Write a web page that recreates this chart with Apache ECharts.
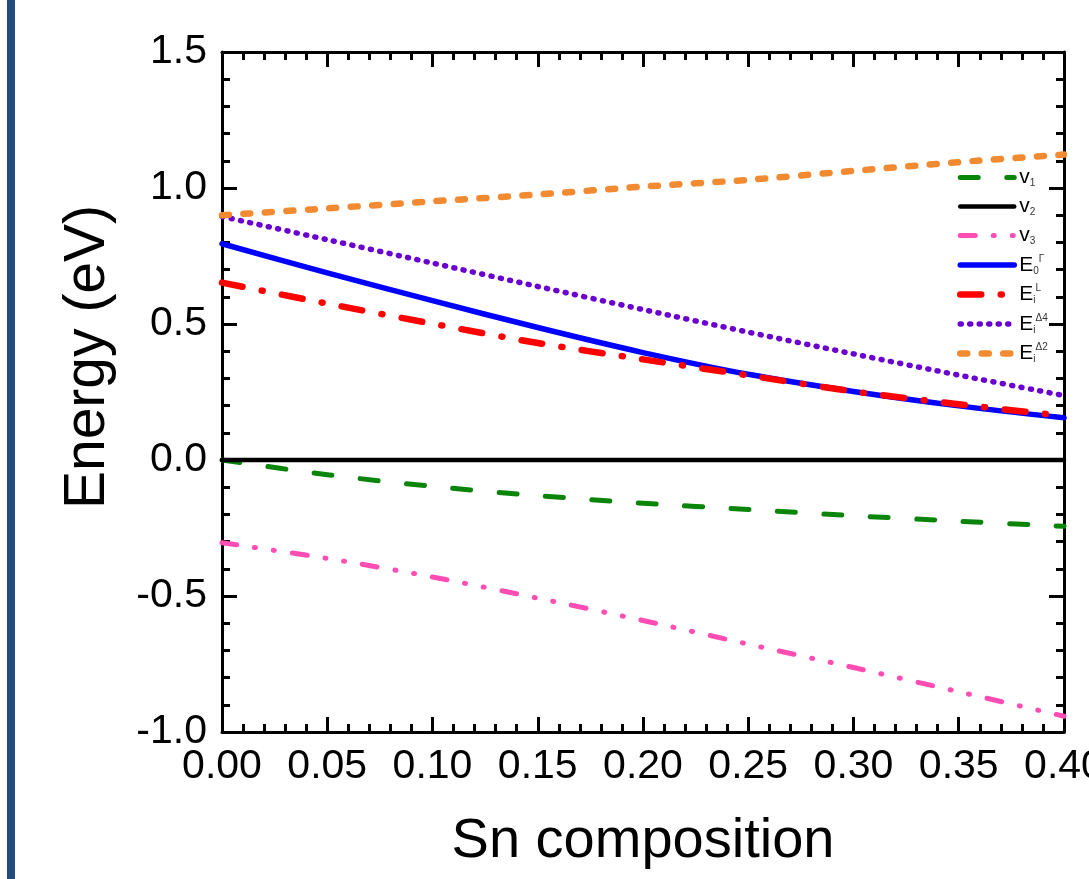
<!DOCTYPE html>
<html>
<head>
<meta charset="utf-8">
<script src="https://cdn.jsdelivr.net/npm/echarts@6/dist/echarts.min.js"></script>
<style>
html,body{margin:0;padding:0;background:#fff;}
#chart{width:1089px;height:879px;}
</style>
</head>
<body>
<div id="chart"></div>
<script>
// Sn composition (x)
const composition = [0.00, 0.05, 0.10, 0.15, 0.20, 0.25, 0.30, 0.35, 0.40];
// Energies (eV)
const v1 = [0.000, -0.054, -0.097, -0.131, -0.159, -0.182, -0.205, -0.225, -0.244];
const v2 = [0.000, 0.000, 0.000, 0.000, 0.000, 0.000, 0.000, 0.000, 0.000];
const v3 = [-0.304, -0.362, -0.430, -0.508, -0.590, -0.677, -0.763, -0.852, -0.942];
const E0Gamma = [0.795, 0.688, 0.586, 0.487, 0.395, 0.315, 0.252, 0.199, 0.155];
const EiL = [0.652, 0.575, 0.501, 0.430, 0.370, 0.311, 0.252, 0.205, 0.162];
const EiDelta4 = [0.895, 0.810, 0.724, 0.638, 0.553, 0.470, 0.390, 0.312, 0.237];
const EiDelta2 = [0.900, 0.925, 0.951, 0.976, 1.005, 1.030, 1.063, 1.095, 1.123];
// tick labels
const xTicks = ['0.00','0.05','0.10','0.15','0.20','0.25','0.30','0.35','0.40'];
const yTicks = ['-1.0','-0.5','0.0','0.5','1.0','1.5'];

const seriesDefs = [
  {name:'v1', data:v1, color:'#0a850a', width:5, type:[18,28.5]},
  {name:'v2', data:v2, color:'#000000', width:4.5, type:'solid'},
  {name:'v3', data:v3, color:'#ff4db4', width:5, type:[15,18,1,18,1,18]},
  {name:'E0G', data:E0Gamma, color:'#0000ff', width:5.5, type:'solid'},
  {name:'EiL', data:EiL, color:'#ff0000', width:6.5, type:[21,19.5,1,19.5]},
  {name:'EiD4', data:EiDelta4, color:'#6a00d0', width:5.5, type:[1,8.5]},
  {name:'EiD2', data:EiDelta2, color:'#f28a32', width:6.5, type:[7,14.5]}
];
const legendLabels = {
  v1:'{b|v}{sub|1}', v2:'{b|v}{sub|2}', v3:'{b|v}{sub|3}',
  E0G:'{b|E}{sub|0}{sup|Γ}', EiL:'{b|E}{sub|i}{sup|L}',
  EiD4:'{b|E}{sub|i}{sup|Δ4}', EiD2:'{b|E}{sub|i}{sup|Δ2}'
};

const FONT = 'Liberation Sans, Arial, sans-serif';
const chart = echarts.init(document.getElementById('chart'), null, {renderer:'canvas'});

const axisCommon = {
  axisLine:{show:true, onZero:false, lineStyle:{color:'#000', width:3}},
  axisTick:{show:true, inside:true, length:15, lineStyle:{color:'#000', width:3}},
  minorTick:{show:true, splitNumber:5, length:8, lineStyle:{color:'#000', width:3}},
  splitLine:{show:false}
};

chart.setOption({
  backgroundColor:'#ffffff',
  animation:false,
  graphic:[{type:'rect', shape:{x:7, y:0, width:8, height:879}, style:{fill:'#244b7e'}, z:100}],
  grid:{left:222, right:25, top:52, bottom:147, containLabel:false, outerBoundsMode:'none'},
  legend:{
    orient:'vertical', left:957, top:167, padding:0, itemWidth:54, itemHeight:14, itemGap:7.5,
    data:seriesDefs.map(s=>s.name),
    formatter:(n)=>legendLabels[n],
    itemStyle:{opacity:0},
    lineStyle:{width:'inherit', type:'inherit', cap:'round'},
    textStyle:{
      fontFamily:FONT, color:'#000',
      rich:{
        b:{fontSize:21, fontFamily:FONT, color:'#000', lineHeight:22, verticalAlign:'middle'},
        sub:{fontSize:10, fontFamily:FONT, color:'#333', lineHeight:10, verticalAlign:'bottom'},
        sup:{fontSize:10, fontFamily:FONT, color:'#333', lineHeight:10, verticalAlign:'top'}
      }
    }
  },
  xAxis:[
    Object.assign({type:'value', min:0, max:0.4, interval:0.05, position:'bottom',
      name:'Sn composition', nameLocation:'middle', nameGap:82,
      nameTextStyle:{fontFamily:FONT, fontSize:56, color:'#000'},
      axisLabel:{show:true, margin:14, fontFamily:FONT, fontSize:41, color:'#000',
        formatter:(v)=>xTicks[Math.round(v/0.05)]}}, axisCommon),
    Object.assign({type:'value', min:0, max:0.4, interval:0.05, position:'top',
      axisLabel:{show:false}}, axisCommon)
  ],
  yAxis:[
    Object.assign({type:'value', min:-1, max:1.5, interval:0.5, position:'left',
      name:'Energy (eV)', nameLocation:'middle', nameGap:105,
      nameTextStyle:{fontFamily:FONT, fontSize:57, color:'#000', padding:[0,0,0,70]},
      axisLabel:{show:true, margin:15, fontFamily:FONT, fontSize:41, color:'#000',
        formatter:(v)=>yTicks[Math.round((v+1)/0.5)]}}, axisCommon),
    Object.assign({type:'value', min:-1, max:1.5, interval:0.5, position:'right',
      axisLabel:{show:false}}, axisCommon)
  ],
  series: seriesDefs.map(s=>({
    name:s.name, type:'line', xAxisIndex:0, yAxisIndex:0,
    data: composition.map((x,i)=>[x, s.data[i]]),
    smooth:0.3, symbol:'none', showSymbol:false,
    color:s.color,
    lineStyle:{color:s.color, width:s.width, type:s.type, cap:'round', join:'round'},
    clip:true
  }))
});
</script>
</body>
</html>
